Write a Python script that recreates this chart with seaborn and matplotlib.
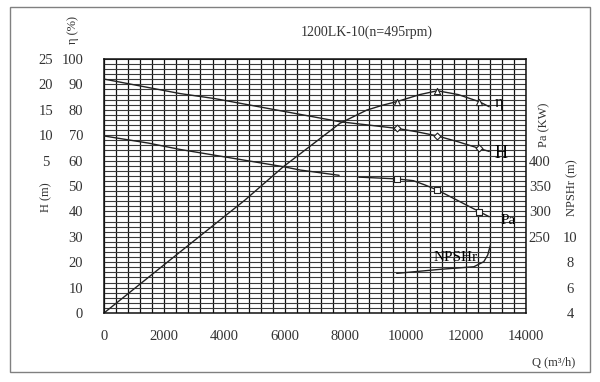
import numpy as np
import matplotlib
matplotlib.use("Agg")
import matplotlib.pyplot as plt
import seaborn as sns
from matplotlib.patches import Rectangle

# data, Q in m3/h
eta_q = [0, 2520, 4680, 5950, 7830, 8720, 9270, 9710, 10480, 11060, 11750, 12450, 12780]
eta = [0, 24.0, 44.5, 57.6, 74.7, 79.9, 81.9, 83.2, 86.0, 87.5, 86.0, 83.2, 81.2]

h_q = [0, 2520, 3680, 7830, 9710, 10400, 11060, 11750, 12450, 12780]
head = [21.05, 18.2, 17.2, 12.65, 11.35, 10.65, 9.85, 8.7, 7.4, 6.8]

pa_q1 = [0, 1470, 2520, 5950, 6500, 7800]
pa1 = [448.5, 434.5, 422.0, 388.0, 381.5, 371.0]
pa_q2 = [8450, 9710, 10260, 10650, 11060, 11700, 12090, 12450, 12780]
pa2 = [367.5, 364.0, 360.5, 352.0, 342.0, 322.5, 310.5, 299.5, 289.5]

npsh_q = [9710, 11160, 12270, 12600, 12730, 12800, 12820]
npsh = [7.12, 7.44, 7.64, 8.04, 8.56, 9.18, 9.36]

mark_q = [9710, 11060, 12450]
eta_mark = [83.2, 87.5, 83.2]
h_mark = [11.35, 9.85, 7.4]
pa_mark = [364.0, 342.0, 299.5]

q_ticks = [0, 2000, 4000, 6000, 8000, 10000, 12000, 14000]
eta_ticks = [0, 10, 20, 30, 40, 50, 60, 70, 80, 90, 100]
h_ticks = [5, 10, 15, 20, 25]
pa_ticks = [250, 300, 350, 400]
npsh_ticks = [4, 6, 8, 10]

sns.set_style("white")
plt.rcParams["font.family"] = ["Liberation Serif", "DejaVu Serif"]

fig = plt.figure(figsize=(6, 3.82), dpi=100)
ax = fig.add_axes([104/600, 69/382, 422/600, 254/382])

txt = "#333333"
line = "#222222"

# grid (main axis = efficiency)
ax.set_xlim(0, 14000)
ax.set_ylim(0, 100)
ax.set_xticks(q_ticks)
ax.set_xticks(np.arange(0, 14001, 400), minor=True)
ax.set_yticks(eta_ticks)
ax.set_yticks(np.arange(0, 101, 2), minor=True)
ax.grid(True, which="both", axis="x", color="#111111", lw=0.9)
ax.grid(True, which="both", axis="y", color="#3a3a3a", lw=0.8)
ax.tick_params(which="both", length=0, labelsize=10.5, labelcolor=txt)
ax.tick_params(axis="y", pad=15)
ax.tick_params(axis="x", pad=12)
for s in ax.spines.values():
    s.set_color("#111111")
    s.set_linewidth(1.1)

# head axis, left outer column
ax_h = ax.twinx()
ax_h.set_ylim(-25, 25)
ax_h.yaxis.set_ticks_position("left")
ax_h.yaxis.set_label_position("left")
ax_h.set_yticks(h_ticks)
ax_h.tick_params(length=0, labelsize=10.5, labelcolor=txt, pad=42)
for t in ax_h.get_yticklabels():
    t.set_horizontalalignment("center")

# shaft power axis, right
ax_pa = ax.twinx()
ax_pa.set_ylim(100, 600)
ax_pa.set_yticks(pa_ticks)
ax_pa.tick_params(length=0, labelsize=10.5, labelcolor=txt, pad=2)

# npsh axis, right outer
ax_n = ax.twinx()
ax_n.set_ylim(4, 24)
ax_n.set_yticks(npsh_ticks)
ax_n.tick_params(length=0, labelsize=10.5, labelcolor=txt, pad=32)
for t in ax_n.get_yticklabels():
    t.set_horizontalalignment("center")

for a in (ax_h, ax_pa, ax_n):
    for s in a.spines.values():
        s.set_visible(False)

# curves
sns.lineplot(x=eta_q, y=eta, ax=ax, color=line, lw=1, estimator=None, sort=False)
sns.lineplot(x=h_q, y=head, ax=ax_h, color=line, lw=1, estimator=None, sort=False)
sns.lineplot(x=pa_q1, y=pa1, ax=ax_pa, color=line, lw=1, estimator=None, sort=False)
sns.lineplot(x=pa_q2, y=pa2, ax=ax_pa, color=line, lw=1, estimator=None, sort=False)
sns.lineplot(x=npsh_q, y=npsh, ax=ax_n, color=line, lw=1, estimator=None, sort=False)

mk = dict(facecolor="white", edgecolor=line, linewidth=0.8, zorder=5)
sns.scatterplot(x=mark_q, y=eta_mark, ax=ax, marker="^", s=20, **mk)
sns.scatterplot(x=mark_q, y=h_mark, ax=ax_h, marker="D", s=12, **mk)
sns.scatterplot(x=mark_q, y=pa_mark, ax=ax_pa, marker="s", s=14, **mk)

for a in (ax, ax_h, ax_pa, ax_n):
    a.set_xlabel("")
    a.set_ylabel("")
ax.set_xlim(0, 14000)

# curve names
ax.text(12970, 82.7, "η", fontsize=12, color="black", va="center", ha="left")
ax.text(12970, 62.6, "H", fontsize=13, color="black", va="center", ha="left")
ax.text(13140, 36.6, "Pa", fontsize=11, color="black", va="center", ha="left")
ax.text(11680, 22.0, "NPSHr", fontsize=11, color="black", va="center", ha="center")

# titles and axis names
fig.text(0.612, 0.916, "1200LK-10(n=495rpm)", fontsize=10, color=txt, ha="center", va="center")
fig.text(0.1217, 0.921, "η (%)", fontsize=9, color=txt, rotation=90, ha="center", va="center")
fig.text(0.0767, 0.484, "H (m)", fontsize=9, color=txt, rotation=90, ha="center", va="center")
fig.text(0.907, 0.673, "Pa (KW)", fontsize=9, color=txt, rotation=90, ha="center", va="center")
fig.text(0.953, 0.508, "NPSHr (m)", fontsize=9, color=txt, rotation=90, ha="center", va="center")
fig.text(0.922, 0.052, "Q (m³/h)", fontsize=9, color=txt, ha="center", va="center")

# outer frame
fig.patches.append(Rectangle((10/600, 10/382), 580/600, 365/382, transform=fig.transFigure,
                             fill=False, edgecolor="#808080", lw=1))

fig.savefig("out.png", dpi=100)
